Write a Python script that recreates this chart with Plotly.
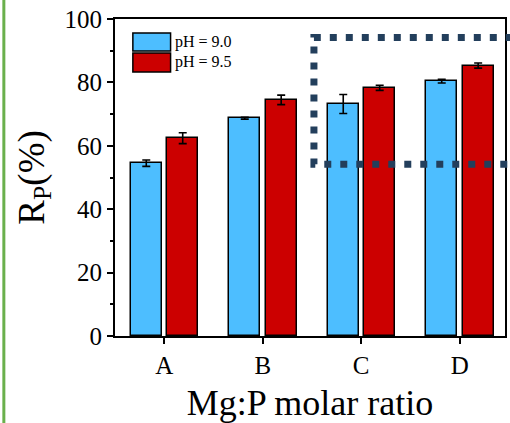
import plotly.graph_objects as go

categories = ["A", "B", "C", "D"]
series_names = ["pH = 9.0", "pH = 9.5"]
values_ph90 = [54.5, 68.7, 73.2, 80.4]
errors_ph90 = [1.0, 0.3, 3.0, 0.6]
values_ph95 = [62.4, 74.5, 78.3, 85.3]
errors_ph95 = [1.7, 1.5, 0.8, 0.8]
colors = ["#4DBEFF", "#CC0000"]

# highlight box (data units)
box_x_left = 1.52
box_y_top = 94.2
box_y_bottom = 54.2

FONT = "Liberation Serif"
Y_MAX = 100
X_RANGE = [-0.5, 3.46]

fig = go.Figure()
offsets = [-0.34, 0.03]
for name, vals, errs, col, off in zip(series_names, [values_ph90, values_ph95],
                                      [errors_ph90, errors_ph95], colors, offsets):
    fig.add_trace(go.Bar(
        x=categories, y=vals, name=name, width=0.315, offset=off,
        marker=dict(color=col, line=dict(color="black", width=1.5)),
        error_y=dict(type="data", array=errs, visible=True, color="black",
                     thickness=1.6, width=4),
        showlegend=False,
    ))

def xpaper(v):
    return (v - X_RANGE[0]) / (X_RANGE[1] - X_RANGE[0])

xl = xpaper(box_x_left)
yt = box_y_top / Y_MAX
yb = box_y_bottom / Y_MAX
shapes = [
    dict(type="path", xref="paper", yref="paper",
         path=f"M 1.02,{yt} L {xl},{yt} L {xl},{yb} L 1.02,{yb}",
         line=dict(color="#233F5C", width=7, dash="7px,9px")),
    dict(type="line", xref="paper", yref="paper", x0=-0.285, x1=-0.285, y0=-0.4, y1=1.2,
         line=dict(color="#6AB04C", width=3)),
]
leg_x0, leg_x1 = 0.0458, 0.1425
leg_rows = [(0.956, 0.899), (0.893, 0.833)]
annotations = []
for (y1, y0), col, name in zip(leg_rows, colors, series_names):
    shapes.append(dict(type="rect", xref="paper", yref="paper", x0=leg_x0, x1=leg_x1,
                       y0=y0, y1=y1, fillcolor=col, line=dict(color="black", width=1.5)))
    annotations.append(dict(xref="paper", yref="paper", x=leg_x1 + 0.005, y=(y0 + y1) / 2,
                            text=name, showarrow=False, xanchor="left", yanchor="middle",
                            font=dict(family=FONT, size=16, color="black")))

fig.update_layout(
    width=510, height=423,
    margin=dict(l=115, r=3, t=19, b=87),
    paper_bgcolor="white", plot_bgcolor="white",
    font=dict(family=FONT, color="black"),
    shapes=shapes, annotations=annotations,
    bargap=0, showlegend=False,
)
fig.update_xaxes(
    range=X_RANGE, showline=True, linecolor="black", linewidth=2, mirror=True,
    ticks="outside", ticklen=6, tickwidth=2, tickcolor="black",
    tickfont=dict(family=FONT, size=25),
    title=dict(text="Mg:P molar ratio", font=dict(family=FONT, size=36), standoff=12),
    showgrid=False,
)
fig.update_yaxes(
    range=[0, Y_MAX], dtick=20, showline=True, linecolor="black", linewidth=2, mirror=True,
    ticks="outside", ticklen=6, tickwidth=2, tickcolor="black",
    minor=dict(dtick=10, ticks="outside", ticklen=3, tickwidth=2, tickcolor="black"),
    tickfont=dict(family=FONT, size=25),
    title=dict(text="R<sub>P</sub>(%)", font=dict(family=FONT, size=37), standoff=9),
    showgrid=False, zeroline=False,
)

fig.write_html("out.html", config={"displayModeBar": False},
               post_script="document.body.style.margin='0';")
